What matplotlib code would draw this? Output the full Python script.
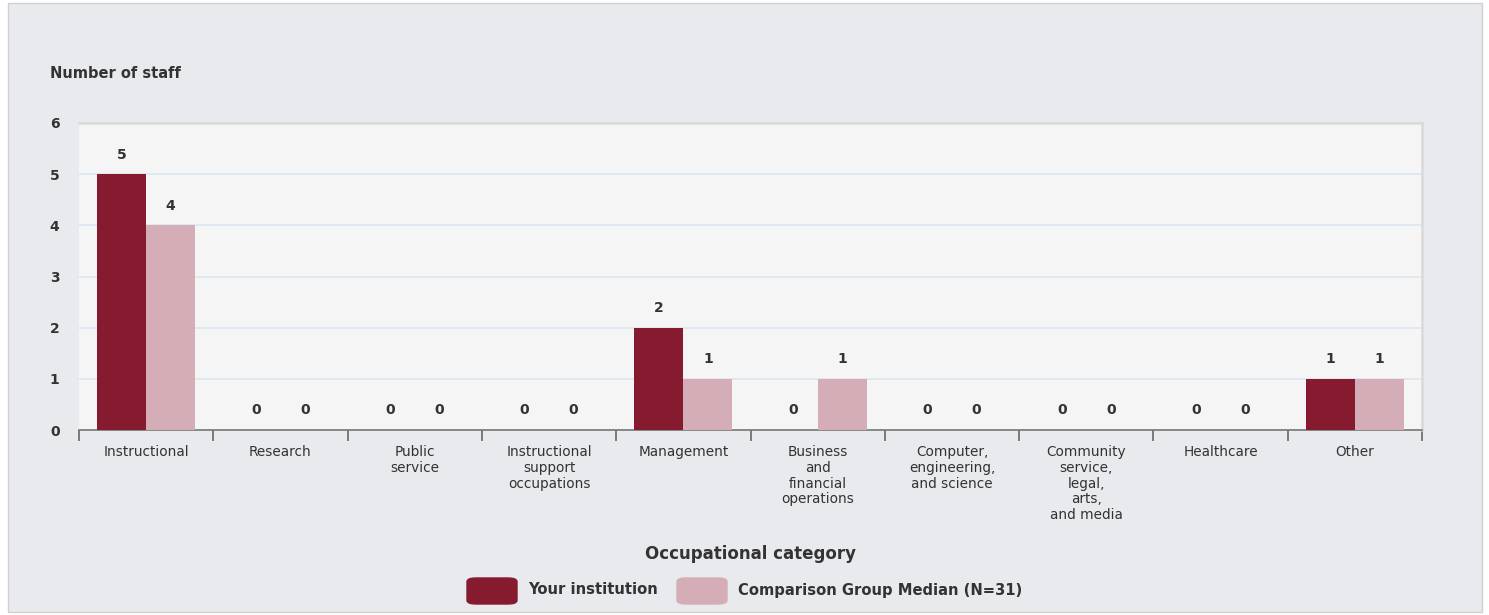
import matplotlib
matplotlib.use("Agg")
import matplotlib.pyplot as plt
import numpy as np
from matplotlib.patches import Rectangle, FancyBboxPatch

categories = ["Instructional", "Research", "Public\nservice",
              "Instructional\nsupport\noccupations", "Management",
              "Business\nand\nfinancial\noperations",
              "Computer,\nengineering,\nand science",
              "Community\nservice,\nlegal,\narts,\nand media",
              "Healthcare", "Other"]
your_institution = [5, 0, 0, 0, 2, 0, 0, 0, 0, 1]
comparison_median = [4, 0, 0, 0, 1, 1, 0, 0, 0, 1]
series_names = ["Your institution", "Comparison Group Median (N=31)"]
y_ticks = [0, 1, 2, 3, 4, 5, 6]

plt.rcParams['font.family'] = ['DejaVu Sans']

W, H = 1489, 615
fig = plt.figure(figsize=(W / 100, H / 100), dpi=100)
fig.patch.set_facecolor("white")

# outer panel
bg = Rectangle((8 / W, 3 / H), (1482 - 8) / W, (612 - 3) / H,
               transform=fig.transFigure, facecolor="#e9eaee",
               edgecolor="#d0d0d0", linewidth=1.0, zorder=-10)
fig.patches.append(bg)

x0, x1, ytop, ybot = 79, 1422, 123, 430
ax = fig.add_axes([x0 / W, (H - ybot) / H, (x1 - x0) / W, (ybot - ytop) / H])
ax.set_zorder(1)
ax.set_facecolor("#f5f5f5")

dark = "#861a2e"
light = "#d5adb6"
n = len(categories)
x = np.arange(n)
bw = 0.365
b1 = ax.bar(x - bw / 2, your_institution, bw, color=dark, zorder=3)
b2 = ax.bar(x + bw / 2, comparison_median, bw, color=light, zorder=3)

for bars, vals in ((b1, your_institution), (b2, comparison_median)):
    for r, v in zip(bars, vals):
        ax.annotate(str(v), (r.get_x() + r.get_width() / 2, v),
                    xytext=(0, 9), textcoords="offset points",
                    ha="center", va="bottom", fontsize=10,
                    fontweight="bold", color="#333333")

ax.set_xlim(-0.5, n - 0.5)
ax.set_ylim(0, 6)
ax.set_yticks(y_ticks)
ax.set_yticklabels([str(t) for t in y_ticks], fontsize=10, fontweight="bold",
                   color="#333333")
ax.tick_params(axis="y", length=0, pad=14)
ax.yaxis.grid(True, color="#dbe5ef", linewidth=1.2, zorder=0)
ax.set_axisbelow(True)

ax.set_xticks(x)
ax.set_xticklabels(categories, fontsize=9.8, color="#333333",
                   linespacing=1.15)
ax.tick_params(axis="x", which="major", length=0, pad=11)
ax.set_xticks(np.arange(n + 1) - 0.5, minor=True)
ax.tick_params(axis="x", which="minor", length=8, width=1.2, color="#666666",
               direction="out")

for s in ("top", "right"):
    ax.spines[s].set_color("#dadada")
    ax.spines[s].set_linewidth(1.8)
ax.spines["left"].set_visible(False)
ax.spines["bottom"].set_color("#777777")
ax.spines["bottom"].set_linewidth(1.2)

fig.text(50 / W, 1 - 74 / H, "Number of staff", fontsize=10.5,
         fontweight="bold", color="#333333", va="center", ha="left")
fig.text(750 / W, 1 - 554 / H, "Occupational category", fontsize=12,
         fontweight="bold", color="#333333", va="center", ha="center")

# legend (manual, rounded swatches)
leg_items = [(467, dark, series_names[0]), (677, light, series_names[1])]
for lx, col, lab in leg_items:
    fig.patches.append(FancyBboxPatch((lx / W, 1 - 604 / H), 50 / W, 26 / H,
                                      boxstyle="round,pad=0,rounding_size=0.006",
                                      transform=fig.transFigure,
                                      facecolor=col, edgecolor=col, zorder=2))
    fig.text((lx + 61) / W, 1 - 590 / H, lab, fontsize=10.6,
             fontweight="bold", color="#333333", va="center", ha="left")

fig.savefig("out.png", dpi=100, facecolor=fig.get_facecolor())
